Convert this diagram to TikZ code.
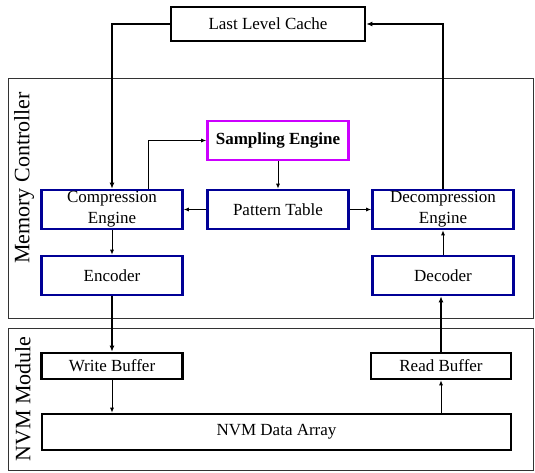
\documentclass[tikz,border=0pt]{standalone}
\usepackage{fontspec}
\setmainfont{Liberation Serif}
\usetikzlibrary{arrows.meta}

\definecolor{boxblue}{RGB}{0,0,150}
\definecolor{sampmag}{RGB}{204,0,255}

\begin{document}
\begin{tikzpicture}[x=1pt, y=-1pt,
	unit/.style = {draw=boxblue, line width=2.6pt, minimum width=141pt, minimum height=39pt, inner sep=0pt, align=center, font=\fontsize{17}{21}\selectfont},
	plain/.style = {draw=black, line width=2.6pt, inner sep=0pt, font=\fontsize{17}{21}\selectfont},
	region/.style = {draw=black!80, line width=0.9pt},
	thinarrow/.style = {line width=0.9pt, -{Latex[length=5pt, width=4pt]}},
	thickarrow/.style = {line width=2pt, -{Latex[length=6pt, width=5pt]}}
	]
	\useasboundingbox (0,0) rectangle (535,472);
	
	% the two enclosing modules
	\draw[region] (8,78) rectangle (533,318);
	\draw[region] (8,328) rectangle (533,470);
	\node[rotate=90, font=\fontsize{22}{24}\selectfont] (mclabel) at (24,178) {Memory Controller};
	\node[rotate=90, font=\fontsize{22}{24}\selectfont] (nvmlabel) at (23,399) {NVM Module};
	
	% blocks
	\node[plain, minimum width=194pt, minimum height=34pt] (llc) at (268,24) {Last Level Cache};
	\node[unit, draw=sampmag, font=\fontsize{17}{21}\selectfont\bfseries] (samp) at (278,140.5) {Sampling Engine};
	\node[unit] (comp) at (112,209.5) {Compression\\Engine};
	\node[unit] (pat) at (278,209.5) {Pattern Table};
	\node[unit] (decomp) at (443,209.5) {Decompression\\Engine};
	\node[unit] (enc) at (112,275.5) {Encoder};
	\node[unit] (dec) at (443,275.5) {Decoder};
	\node[plain, minimum width=141pt, minimum height=26pt] (wbuf) at (112,366) {Write Buffer};
	\node[plain, minimum width=140pt, minimum height=26pt] (rbuf) at (441,366) {Read Buffer};
	\node[plain, minimum width=469pt, minimum height=36pt] (nvm) at (276.5,432) {NVM Data Array};
	
	% data paths
	\draw[thickarrow] (llc.west) -| (comp.north);
	\draw[thickarrow] (decomp.north) |- (llc.east);
	\draw[thinarrow] ([xshift=36pt]comp.north) |- (samp.west);
	\draw[thinarrow] (samp.south) -- (pat.north);
	\draw[thinarrow] (pat.west) -- (comp.east);
	\draw[thinarrow] (pat.east) -- (decomp.west);
	\draw[thinarrow] (comp.south) -- (enc.north);
	\draw[thinarrow] (dec.north) -- (decomp.south);
	\draw[thickarrow] (enc.south) -- (wbuf.north);
	\draw[thickarrow] (rbuf.north) -- (rbuf.north |- dec.south);
	\draw[thinarrow] (wbuf.south) -- (wbuf.south |- nvm.north);
	\draw[thinarrow] (nvm.north -| rbuf.south) -- (rbuf.south);
\end{tikzpicture}
\end{document}
